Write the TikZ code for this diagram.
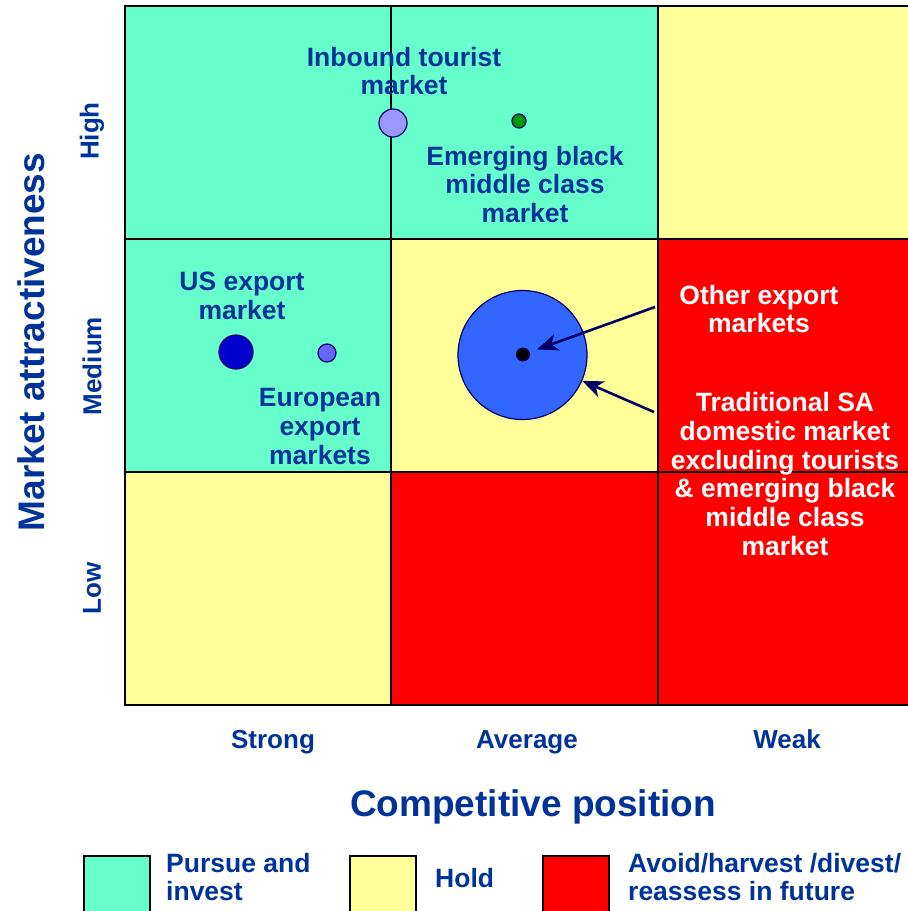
\documentclass[tikz,border=0pt]{standalone}
\usepackage{fontspec}
\setmainfont{Liberation Sans}
\usetikzlibrary{arrows.meta}
\definecolor{aqua}{HTML}{66FFCC}
\definecolor{holdy}{HTML}{FFFF99}
\definecolor{avoidr}{HTML}{FF0000}
\definecolor{txtblue}{HTML}{003399}
\definecolor{edgeblue}{HTML}{000066}
\definecolor{bubInb}{HTML}{9999FF}
\definecolor{bubGrn}{HTML}{009900}
\definecolor{bubUS}{HTML}{0000CC}
\definecolor{bubEU}{HTML}{6666FF}
\definecolor{bubBig}{HTML}{3366FF}
\tikzset{
  gridline/.style={draw=black, line width=1.5pt},
  lbl/.style={font=\bfseries\fontsize{26.5}{28.7}\selectfont, text=txtblue, align=center, inner sep=0pt},
  wlbl/.style={lbl, text=white},
  axlbl/.style={font=\bfseries\fontsize{26}{28}\selectfont, text=txtblue, inner sep=0pt},
  biglbl/.style={font=\bfseries\fontsize{37}{40}\selectfont, text=txtblue, inner sep=0pt},
  leglbl/.style={font=\bfseries\fontsize{26.5}{28.5}\selectfont, text=txtblue, align=left, inner sep=0pt, anchor=west},
  legbox/.style={draw=black, line width=1.5pt},
  bub/.style={circle, draw=edgeblue, line width=1.2pt, inner sep=0pt},
  arr/.style={draw=edgeblue, line width=2.6pt, -{Stealth[length=21pt,width=17pt,inset=6pt]}}
}
\begin{document}
\begin{tikzpicture}[x=1pt,y=-1pt]
\useasboundingbox (0,0) rectangle (908,911);
\clip (0,0) rectangle (908,911);
\fill[white] (0,0) rectangle (908,911);
% cells
\fill[aqua]   (125,6) rectangle (391,239);
\fill[aqua]   (391,6) rectangle (658,239);
\fill[holdy]  (658,6) rectangle (930,239);
\fill[aqua]   (125,239) rectangle (391,472);
\fill[holdy]  (391,239) rectangle (658,472);
\fill[avoidr] (658,239) rectangle (930,472);
\fill[holdy]  (125,472) rectangle (391,705);
\fill[avoidr] (391,472) rectangle (658,705);
\fill[avoidr] (658,472) rectangle (930,705);
% grid lines
\draw[gridline] (930,6) -- (125,6) -- (125,705) -- (930,705);
\draw[gridline] (391,6) -- (391,705);
\draw[gridline] (658,6) -- (658,705);
\draw[gridline] (125,239) -- (930,239);
\draw[gridline] (125,472) -- (930,472);
% bubbles
\node[bub, minimum size=28pt, fill=bubInb] (inb) at (393,123) {};
\node[bub, minimum size=14pt, fill=bubGrn] (emg) at (519,121) {};
\node[bub, minimum size=34pt, fill=bubUS] (us) at (236,352) {};
\node[bub, minimum size=18pt, fill=bubEU] (eu) at (327,353) {};
\node[bub, minimum size=129pt, fill=bubBig] (big) at (522.5,355) {};
\node[circle, fill=black, draw=edgeblue, line width=1pt, inner sep=0pt, minimum size=13pt] (dot) at (523,354.5) {};
% labels in cells
\node[lbl] (tInb) at (404,71) {Inbound tourist\\market};
\node[lbl] (tEmg) at (525,184.5) {Emerging black\\middle class\\market};
\node[lbl] (tUS) at (242,296) {US export\\market};
\node[lbl] (tEU) at (320,426.5) {European\\export\\markets};
\node[wlbl] (tOE) at (759,309) {Other export\\markets};
\node[wlbl] (tTS) at (785,474) {Traditional SA\\domestic market\\excluding tourists\\\& emerging black\\middle class\\market};
% arrows
\coordinate (oeS) at (655,307);
\coordinate (tsS) at (654,412);
\draw[arr, shorten >=8pt] (oeS) -- (dot);
\draw[arr] (tsS) -- (big);
% axes
\node[axlbl, rotate=90] (aHigh) at (92,131) {High};
\node[axlbl, rotate=90] (aMed) at (92,366) {Medium};
\node[axlbl, rotate=90] (aLow) at (92,588) {Low};
\node[biglbl, rotate=90] (aMA) at (31,342) {Market attractiveness};
\node[axlbl, anchor=base] (aStr) at (273,748) {Strong};
\node[axlbl, anchor=base] (aAvg) at (527,748) {Average};
\node[axlbl, anchor=base] (aWeak) at (787,748) {Weak};
\node[biglbl, anchor=base] (aCP) at (533,816) {Competitive position};
% legend
\draw[legbox, fill=aqua]   (84,856) rectangle (150,925);
\draw[legbox, fill=holdy]  (350,856) rectangle (416,925);
\draw[legbox, fill=avoidr] (543,856) rectangle (609,925);
\node[leglbl] (lP) at (166,877) {Pursue and\\invest};
\node[leglbl] (lH) at (435,878) {Hold};
\node[leglbl] (lA) at (628,877) {Avoid/harvest /divest/\\reassess in future};
\end{tikzpicture}
\end{document}
